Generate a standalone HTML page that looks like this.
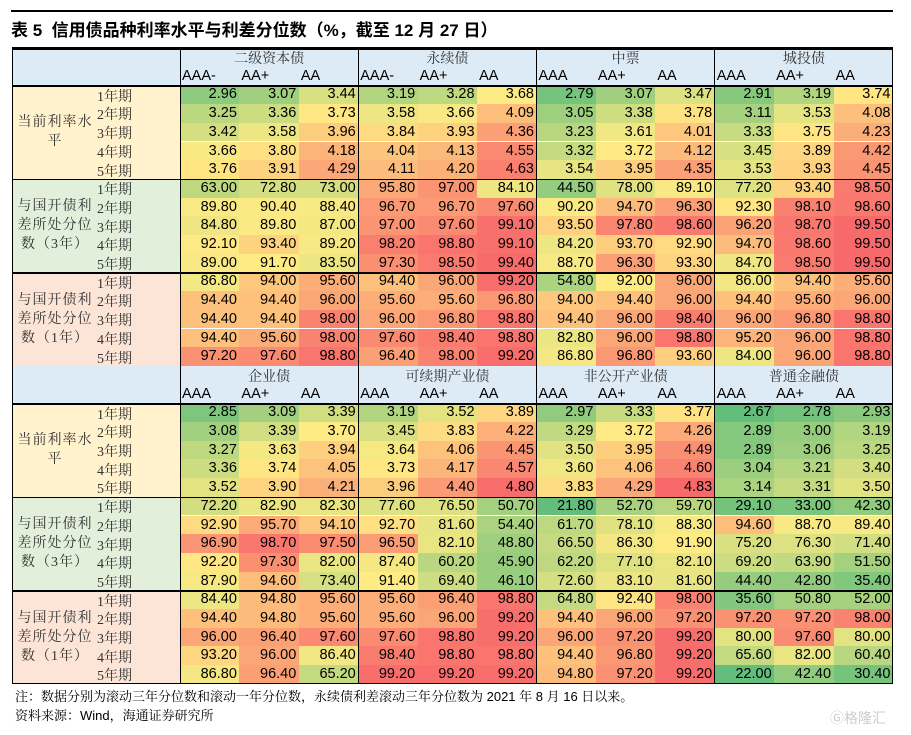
<!DOCTYPE html>
<html><head><meta charset="utf-8">
<style>
body{margin:0;width:911px;height:735px;background:#fff;position:relative;overflow:hidden;font-family:"Liberation Sans","Noto Sans CJK SC",sans-serif;}
.a{position:absolute;box-sizing:border-box;}
.num{font-size:14.5px;text-align:right;padding-right:3px;line-height:18.7px;color:#000;}
.cj{font-family:"Liberation Serif","Noto Serif CJK SC",serif;font-size:14px;color:#333;line-height:19px;display:inline-block;vertical-align:top;}
.fc{display:flex;align-items:center;}
.fc .cj{line-height:1;position:relative;top:3px;}
</style></head><body>
<div class="a" style="left:11px;top:10px;width:882px;height:1.5px;background:#000"></div>
<div class="a" style="left:11px;top:20px;font-size:17px;line-height:22px;font-weight:bold;font-family:'Liberation Sans','Noto Sans CJK SC',sans-serif;white-space:nowrap">表 5&nbsp; 信用债品种利率水平与利差分位数（%，截至 12 月 27 日）</div>
<div id="tbl"></div>
<div class="a" style="left:15px;top:688px;font-size:13px;line-height:18px;white-space:nowrap;font-family:'Liberation Sans','Noto Serif CJK SC',serif">注：数据分别为滚动三年分位数和滚动一年分位数，永续债利差滚动三年分位数为 2021 年 8 月 16 日以来。</div>
<div class="a" style="left:15px;top:707px;font-size:13px;line-height:18px;white-space:nowrap;font-family:'Liberation Sans','Noto Serif CJK SC',serif">资料来源：Wind，海通证券研究所</div>
<div class="a" style="left:830px;top:708px;font-size:14px;color:#ccc;white-space:nowrap">Ⓖ格隆汇</div>
<script>
const groupsTop=["二级资本债","永续债","中票","城投债"];
const ratingsTop=[["AAA-","AA+","AA"],["AAA-","AA+","AA"],["AAA","AA+","AA"],["AAA","AA+","AA"]];
const groupsBot=["企业债","可续期产业债","非公开产业债","普通金融债"];
const ratingsBot=[["AAA","AA+","AA"],["AAA","AA+","AA"],["AAA","AA+","AA"],["AAA","AA+","AA"]];
const sectionLabels=["当前利率水<br>平","与国开债利<br>差所处分位<br>数（3年）","与国开债利<br>差所处分位<br>数（1年）"];
const sectionBg=["#fff2cc","#e2efda","#fce4d6"];
const periods=["1年期","2年期","3年期","4年期","5年期"];
const topRate=[
[2.96,3.07,3.44,3.19,3.28,3.68,2.79,3.07,3.47,2.91,3.19,3.74],
[3.25,3.36,3.73,3.58,3.66,4.09,3.05,3.38,3.78,3.11,3.53,4.08],
[3.42,3.58,3.96,3.84,3.93,4.36,3.23,3.61,4.01,3.33,3.75,4.23],
[3.66,3.80,4.18,4.04,4.13,4.55,3.32,3.72,4.12,3.45,3.89,4.42],
[3.76,3.91,4.29,4.11,4.20,4.63,3.54,3.95,4.35,3.53,3.93,4.45]];
const top3y=[
[63.00,72.80,73.00,95.80,97.00,84.10,44.50,78.00,89.10,77.20,93.40,98.50],
[89.80,90.40,88.40,96.70,96.70,97.60,90.20,94.70,96.30,92.30,98.10,98.60],
[84.80,89.80,87.00,97.00,97.60,99.10,93.50,97.80,98.60,96.20,98.70,99.50],
[92.10,93.40,89.20,98.20,98.80,99.10,84.20,93.70,92.90,94.70,98.60,99.50],
[89.00,91.70,83.50,97.30,98.50,99.40,88.70,96.30,93.30,84.70,98.50,99.50]];
const top1y=[
[86.80,94.00,95.60,94.40,96.00,99.20,54.80,92.00,96.00,86.00,94.40,95.60],
[94.40,94.40,96.00,95.60,95.60,96.80,94.00,94.40,96.00,94.40,95.60,96.00],
[94.40,94.40,98.00,96.00,96.80,98.80,94.40,96.00,98.40,96.00,96.80,98.80],
[94.40,95.60,98.00,97.60,98.40,98.80,82.80,96.00,98.80,95.20,96.00,98.80],
[97.20,97.60,98.80,96.40,98.00,99.20,86.80,96.80,93.60,84.00,96.00,98.80]];
const botRate=[
[2.85,3.09,3.39,3.19,3.52,3.89,2.97,3.33,3.77,2.67,2.78,2.93],
[3.08,3.39,3.70,3.45,3.83,4.22,3.29,3.72,4.26,2.89,3.00,3.19],
[3.27,3.63,3.94,3.64,4.06,4.45,3.50,3.95,4.49,2.89,3.06,3.25],
[3.36,3.74,4.05,3.73,4.17,4.57,3.60,4.06,4.60,3.04,3.21,3.40],
[3.52,3.90,4.21,3.96,4.40,4.80,3.83,4.29,4.83,3.14,3.31,3.50]];
const bot3y=[
[72.20,82.90,82.30,77.60,76.50,50.70,21.80,52.70,59.70,29.10,33.00,42.30],
[92.90,95.70,94.10,92.70,81.60,54.40,61.70,78.10,88.30,94.60,88.70,89.40],
[96.90,98.70,97.50,96.50,82.10,48.80,66.50,86.30,91.90,75.20,76.30,71.40],
[92.20,97.30,82.00,87.40,60.20,45.90,62.20,77.10,82.10,69.20,63.90,51.50],
[87.90,94.60,73.40,91.40,69.40,46.10,72.60,83.10,81.60,44.40,42.80,35.40]];
const bot1y=[
[84.40,94.80,95.60,95.60,96.40,98.80,64.80,92.40,98.00,35.60,50.80,52.00],
[94.40,94.80,95.60,95.60,96.00,99.20,94.40,96.00,97.20,97.20,97.20,98.00],
[96.00,96.40,97.60,97.60,98.80,99.20,96.00,97.20,99.20,80.00,97.60,80.00],
[93.20,96.00,86.40,98.40,98.80,98.80,94.40,96.80,99.20,65.60,82.00,60.40],
[86.80,96.40,65.20,99.20,99.20,99.20,94.80,97.20,99.20,22.00,42.40,30.40]];

const T=document.getElementById('tbl');
const L=11.5,R=893,LC=180,RH=18.7,TOP=48,GW=(R-LC)/4,CW=GW/3;
function box(x,y,w,h,css,html,name,cls){const d=document.createElement('div');d.className='a'+(cls?' '+cls:'');d.style.cssText=`left:${x}px;top:${y}px;width:${w}px;height:${h}px;`+css;if(html!==undefined)d.innerHTML=html;


T.appendChild(d);return d;}
function mix(a,b,t){t=Math.max(0,Math.min(1,t));return a.map((v,i)=>Math.round(v+(b[i]-v)*t));}
const G=[99,190,123],Y=[255,235,132],Rr=[248,105,107];
function colorFor(v,sc){const [mn,md,mx]=sc;let c;if(v<=md)c=mix(G,Y,(v-mn)/(md-mn));else c=mix(Y,Rr,(v-md)/(mx-md));return `rgb(${c})`;}
function scaleOf(arrs,mid){const all=arrs.flat(2);return [Math.min(...all),mid,Math.max(...all)];}
const rateScale=scaleOf([topRate,botRate],3.7);
const pctScale=scaleOf([top3y,top1y,bot3y,bot1y],92);
function block(y0,groups,ratings,sections){
  box(L,y0,R-L,RH*2,'background:#ddebf7;',undefined,'header-row');
  groups.forEach((g,i)=>{
    box(LC+i*GW,y0,GW,RH,'justify-content:center;',`<span class="cj">${g}</span>`,'group-header','fc');
    ratings[i].forEach((r,j)=>box(LC+i*GW+j*CW,y0+RH,CW,RH,'font-size:14.5px;line-height:19px;padding-left:2px;',r,'rating-header'));
  });
  let y=y0+RH*2;
  sections.forEach((data,s)=>{
    const sc=s===0?rateScale:pctScale;
    box(L,y,LC-L,RH*5,`background:${sectionBg[s]};`,undefined,'section-label-cell');
    const nl=sectionLabels[s].split('<br>').length;
    box(15,y+RH*2.5-nl*9.5,80,nl*19,'text-align:center;line-height:19px;',`<span class="cj" style="letter-spacing:1px">${sectionLabels[s]}</span>`,'section-label');
    periods.forEach((p,r)=>{
      box(97,y+r*RH,45,RH,'',`<span class="cj">${p}</span>`,'period-label','fc');
      data[r].forEach((v,c)=>{
        box(LC+c*CW,y+r*RH,CW+0.5,RH,`background:${colorFor(v,sc)};`,'<div class="num">'+v.toFixed(2)+'</div>','heat-cell');
      });
    });
    box(L,y,R-L,1.3,'background:#000;',undefined,'section-border');
    y+=RH*5;
  });
  return y;
}
const yEnd1=block(TOP,groupsTop,ratingsTop,[topRate,top3y,top1y]);
const yEnd2=block(yEnd1,groupsBot,ratingsBot,[botRate,bot3y,bot1y]);
box(L,TOP-1,R-L,2.5,'background:#000;',undefined,'table-top-border');
box(L,yEnd2-1,R-L,1.5,'background:#000;',undefined,'table-bottom-border');
box(L,TOP,1.2,yEnd2-TOP,'background:#000;',undefined,'table-left-border');
box(R-1,TOP,1.2,yEnd2-TOP,'background:#000;',undefined,'table-right-border');
box(LC,TOP,1,yEnd2-TOP,'background:#000;',undefined,'label-column-border');
for(let i=1;i<4;i++) box(LC+i*GW-0.5,TOP,1.2,yEnd2-TOP,'background:#000;',undefined,'group-border');
</script>
</body></html>
